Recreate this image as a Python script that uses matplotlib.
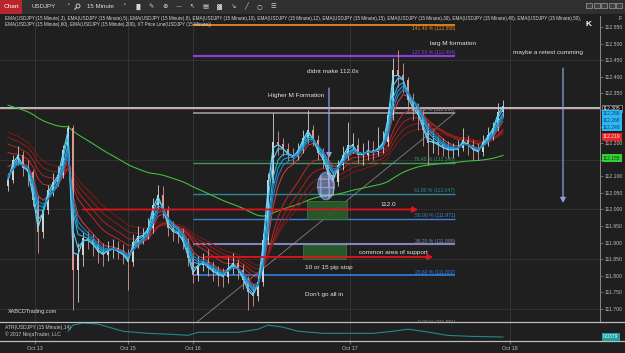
import numpy as np
import matplotlib
matplotlib.use('Agg')
import matplotlib.pyplot as plt
from matplotlib.patches import Rectangle, Ellipse, FancyArrowPatch, Circle
import matplotlib.transforms as mtransforms

# ---------------- data ----------------
first_open = 112.070
closes = [112.089, 112.149, 112.164, 112.125, 112.113, 112.029, 111.932, 111.998, 112.059, 112.083,
          112.104, 112.179, 112.246, 111.818, 111.863, 111.914, 111.908, 111.893, 111.872, 111.863,
          111.878, 111.884, 111.872, 111.863, 111.842, 111.902, 111.920, 111.923, 111.944, 112.014,
          112.044, 111.998, 111.944, 111.932, 111.926, 111.902, 111.854, 111.803, 111.833, 111.842,
          111.824, 111.812, 111.803, 111.797, 111.824, 111.839, 111.818, 111.788, 111.751, 111.739,
          111.782, 111.908, 112.089, 112.203, 112.197, 112.182, 112.164, 112.158, 112.179, 112.215,
          112.240, 112.209, 112.170, 112.149, 112.104, 112.083, 112.134, 112.164, 112.194, 112.194,
          112.164, 112.164, 112.179, 112.173, 112.185, 112.203, 112.285, 112.420, 112.405, 112.390,
          112.330, 112.300, 112.285, 112.240, 112.200, 112.203, 112.194, 112.185, 112.179, 112.179,
          112.185, 112.209, 112.194, 112.179, 112.173, 112.203, 112.224, 112.246, 112.294, 112.312]
highs = [112.110, 112.165, 112.190, 112.175, 112.150, 112.120, 112.040, 112.010, 112.075, 112.110,
         112.130, 112.195, 112.255, 112.255, 111.900, 111.935, 111.935, 111.925, 111.915, 111.900,
         111.905, 111.910, 111.905, 111.895, 111.880, 111.925, 111.950, 111.945, 111.975, 112.035,
         112.074, 112.070, 112.010, 111.965, 111.950, 111.945, 111.915, 111.870, 111.860, 111.870,
         111.880, 111.845, 111.830, 111.825, 111.860, 111.870, 111.850, 111.835, 111.800, 111.775,
         111.800, 111.930, 112.110, 112.291, 112.235, 112.215, 112.200, 112.185, 112.200, 112.240,
         112.300, 112.255, 112.225, 112.185, 112.160, 112.115, 112.150, 112.190, 112.264, 112.230,
         112.215, 112.200, 112.210, 112.205, 112.249, 112.235, 112.300, 112.457, 112.481, 112.440,
         112.400, 112.350, 112.320, 112.300, 112.260, 112.235, 112.220, 112.215, 112.205, 112.200,
         112.210, 112.246, 112.225, 112.210, 112.200, 112.225, 112.250, 112.265, 112.320, 112.330]
lows = [112.055, 112.080, 112.135, 112.100, 112.070, 112.010, 111.870, 111.915, 111.985, 112.040,
        112.070, 112.095, 112.165, 111.697, 111.720, 111.830, 111.880, 111.860, 111.840, 111.830,
        111.845, 111.855, 111.850, 111.835, 111.757, 111.830, 111.885, 111.895, 111.910, 111.930,
        112.000, 111.975, 111.920, 111.905, 111.900, 111.880, 111.830, 111.780, 111.785, 111.815,
        111.800, 111.785, 111.770, 111.765, 111.780, 111.805, 111.790, 111.760, 111.697, 111.710,
        111.725, 111.770, 111.895, 112.080, 112.165, 112.160, 112.145, 112.140, 112.150, 112.170,
        112.200, 112.190, 112.150, 112.125, 112.070, 112.044, 112.070, 112.120, 112.150, 112.170,
        112.140, 112.135, 112.150, 112.150, 112.160, 112.170, 112.190, 112.270, 112.370, 112.350,
        112.300, 112.270, 112.240, 112.190, 112.134, 112.170, 112.165, 112.160, 112.155, 112.155,
        112.160, 112.175, 112.165, 112.150, 112.149, 112.160, 112.190, 112.210, 112.235, 112.280]

bars_per_candle = 3          # each drawn candle stands for three 15-minute bars
ema_fast_periods = [3, 5, 8, 10, 12]
ema_fast_start = [112.085, 112.090, 112.100, 112.105, 112.110]
ema_slow_periods = [15, 30, 40, 50, 60]
ema_slow_start = [112.150, 112.190, 112.215, 112.235, 112.250]
ema_long_period = 200
ema_long_start = 112.321
price_line = 112.305

fib_low, fib_high = 111.651, 112.291
fib_ratios = [0.0, 0.236, 0.382, 0.5, 0.618, 0.764, 1.0, 1.27, 1.414]
fib_start_bar, fib_end_bar = 37.0, 89.4

atr_bars = [12, 13, 15, 18, 23, 28, 33, 36, 38, 41, 46, 50, 52, 55, 58, 63, 68, 73, 77, 80, 83, 88, 93, 99]
atr_vals = [0.054, 0.0713, 0.0771, 0.0742, 0.054, 0.0482, 0.0453, 0.0424, 0.051, 0.051, 0.051, 0.0597,
            0.0713, 0.0655, 0.054, 0.0482, 0.0482, 0.0482, 0.054, 0.0597, 0.054, 0.0424, 0.0395, 0.0379]

date_labels = ['Oct 13', 'Oct 15', 'Oct 16', 'Oct 17', 'Oct 18']
date_bars = [5.4, 24.0, 37.0, 68.4, 100.4]

last_value_boxes = [112.305, 112.288, 112.268, 112.248, 112.219, 112.155]
box_styles = [('#0c0c0c', '#ffffff'), ('#2fb8f0', '#0b3c78'), ('#2fb8f0', '#0b3c78'),
              ('#2fb8f0', '#0b3c78'), ('#ee2222', '#ffe0e0'), ('#33d233', '#0d3d0d')]

ema_header_1 = ('EMA(USDJPY (15 Minute),3), EMA(USDJPY (15 Minute),5), EMA(USDJPY (15 Minute),8), '
                'EMA(USDJPY (15 Minute),10), EMA(USDJPY (15 Minute),12), EMA(USDJPY (15 Minute),15), '
                'EMA(USDJPY (15 Minute),30), EMA(USDJPY (15 Minute),40), EMA(USDJPY (15 Minute),50),')
ema_header_2 = 'EMA(USDJPY (15 Minute),60), EMA(USDJPY (15 Minute),200), XT Price Line(USDJPY (15 Minute))'

# ---------------- helpers ----------------
def ema(values, period, start):
    a = 1 - (1 - 2.0 / (period + 1)) ** bars_per_candle
    out, prev = [], start
    for v in values:
        prev = a * v + (1 - a) * prev
        out.append(prev)
    return np.array(out)

plt.rcParams['font.family'] = ['Liberation Sans', 'DejaVu Sans']
BG = '#1f1f1f'
W, H = 625, 353
fig = plt.figure(figsize=(W / 100, H / 100), dpi=100, facecolor=BG)

def pos(x0, y0, x1, y1):
    return [x0 / W, 1 - y1 / H, (x1 - x0) / W, (y1 - y0) / H]

ax = fig.add_axes(pos(0, 16, 600, 322), facecolor=BG)
atr_ax = fig.add_axes(pos(0, 322, 600, 341), facecolor=BG, sharex=ax)

c = np.array(closes); h = np.array(highs); l = np.array(lows)
o = np.array([first_open] + closes[:-1])
x = np.arange(len(c))
ax.set_xlim(-1.6, 118.4)
ax.set_ylim(111.661, 112.583)

# grid
for gx in date_bars:
    ax.axvline(gx, color='#353535', lw=0.7, zorder=0)
for gy in [111.70, 111.85, 112.00, 112.15, 112.45]:
    ax.axhline(gy, color='#333333', lw=0.6, zorder=0)

# fib levels
fib_colors = ['#8a8a8a', '#2f7fe0', '#8286b8', '#3f7fd0', '#2a8a98', '#3c9a5c', '#9a9a9a', '#8c3fd8', '#e8871e']
fib_lw = [0.8, 1.2, 1.5, 1.0, 1.0, 1.0, 1.2, 1.6, 1.3]
for r, col, lw in zip(fib_ratios, fib_colors, fib_lw):
    p = fib_low + r * (fib_high - fib_low)
    ax.hlines(p, fib_start_bar, fib_end_bar, color=col, lw=lw, zorder=1)
    below = r > 1.3
    ax.text(fib_end_bar, p + (-0.004 if below else 0.002), f'{r*100:.2f} % ({p:.3f})', color=col,
            fontsize=3.6, ha='right', va='top' if below else 'bottom', zorder=6)
ax.plot([fib_start_bar, fib_end_bar], [fib_low, fib_high], color='#9a9a9a', lw=0.6, alpha=0.8, zorder=2)

# price line
ax.axhline(price_line + 0.004, color='#9fcfc8', lw=0.7, zorder=2)
ax.axhline(price_line, color='#d6a4b0', lw=1.0, zorder=2)

# green boxes
ax.add_patch(Rectangle((59.8, 111.970), 8.0, 0.055, fc='#2b5e2b', ec='#3a7a3a', lw=0.6, alpha=0.9, zorder=2))
ax.add_patch(Rectangle((59.0, 111.852), 8.6, 0.041, fc='#2b5e2b', ec='#3a7a3a', lw=0.6, alpha=0.9, zorder=2))

# EMAs
ax.plot(x, ema(closes, ema_long_period, ema_long_start), color='#3fbf3f', lw=0.8, zorder=3)
slow_cols = ['#e83a3a', '#c62828', '#b02020', '#961c1c', '#7f1818']
for p, s, col in zip(ema_slow_periods, ema_slow_start, slow_cols):
    ax.plot(x, ema(closes, p, s), color=col, lw=0.7, zorder=3)

# candles
up = c >= o
body_col = np.where(up, '#d2d2d2', '#e09494')
ax.vlines(x, l, h, colors=body_col, lw=0.6, zorder=4)
ax.bar(x, np.maximum(np.abs(c - o), 0.003), bottom=np.minimum(o, c), width=0.55,
       color=body_col, edgecolor='none', zorder=4)

fast_cols = ['#6fdcff', '#45c6f2', '#2eaee2', '#2495cf', '#1c7fbb']
for p, s, col in zip(ema_fast_periods, ema_fast_start, fast_cols):
    ax.plot(x, ema(closes, p, s), color=col, lw=0.8, zorder=5)

ax.add_patch(Ellipse((63.6, 112.071), 3.4, 0.084, fc='#8fb0f0', ec='#b8ccff', lw=0.6,
                     alpha=0.55, hatch='++', zorder=6))

# arrows
def arrow(x0, y0, x1, y1, col, lw):
    ax.add_patch(FancyArrowPatch((x0, y0), (x1, y1), arrowstyle='-|>,head_length=3,head_width=1.6',
                                 color=col, lw=lw, zorder=7, shrinkA=0, shrinkB=0))
arrow(15.0, 112.000, 82.0, 112.000, '#e0141e', 1.3)
arrow(39.4, 111.857, 85.0, 111.857, '#e0141e', 1.3)
arrow(64.2, 112.366, 64.2, 112.155, '#8aa2e2', 0.9)
arrow(111.0, 112.426, 111.0, 112.020, '#8aa2e2', 0.9)

# annotations
tc = '#e4e4e4'
notes = [('larg M formation', 89.0, 112.499), ('maybe a retest cumming', 108.0, 112.472),
         ('didnt make 112.0x', 65.0, 112.417), ('Higher M Formation', 57.6, 112.342),
         ('112.0', 76.0, 112.014), ('common area of support', 77.0, 111.869),
         ('10 or 15 pip stop', 64.2, 111.824), ("Don't go all in", 63.2, 111.745)]
for t, tx, ty in notes:
    ax.text(tx, ty, t, color=tc, fontsize=4.6, ha='center', va='center', zorder=8)
ax.text(0.0, 111.694, 'XABCDTrading.com', color='#dddddd', fontsize=4.0, ha='left', va='center', zorder=8)

# right axis (labels hidden behind the value boxes are left blank)
for sp in ['top', 'left', 'bottom']:
    ax.spines[sp].set_visible(False)
ax.spines['right'].set_color('#8a8a8a'); ax.spines['right'].set_linewidth(0.7)
ax.yaxis.tick_right()
yt = np.round(np.arange(111.70, 112.5501, 0.05), 3)
hidden = [112.30, 112.25, 112.15]
ax.set_yticks(yt)
ax.set_yticklabels(['' if any(abs(v - hv) < 1e-6 for hv in hidden) else f'{v:.3f}' for v in yt])
ax.tick_params(axis='y', colors='#8a8a8a', labelcolor='#bdbdbd', labelsize=3.7, length=2, width=0.5, pad=1)
ax.tick_params(axis='x', bottom=False, labelbottom=False)

# ATR pane
atr_ax.set_ylim(0.0267, 0.0799)
atr_ax.plot(atr_bars, atr_vals, color='#1f8a8a', lw=0.8)
for sp in ['left', 'right']:
    atr_ax.spines[sp].set_visible(False)
for sp in ['top', 'bottom']:
    atr_ax.spines[sp].set_color('#bdbdbd'); atr_ax.spines[sp].set_linewidth(0.9)
atr_ax.set_yticks([])
atr_ax.set_xticks(date_bars)
atr_ax.set_xticklabels(date_labels)
atr_ax.tick_params(axis='x', colors='#8a8a8a', labelcolor='#bdbdbd', labelsize=3.8, length=2, width=0.5, pad=1.5)
for gx in date_bars:
    atr_ax.axvline(gx, color='#353535', lw=0.7, zorder=0)
atr_ax.text(0.008, 0.72, 'ATR(USDJPY (15 Minute),14)', transform=atr_ax.transAxes, fontsize=3.6,
            color='#cccccc', va='center')
atr_ax.text(0.008, 0.35, '\u00a9 2017 NinjaTrader, LLC', transform=atr_ax.transAxes, fontsize=3.6,
            color='#cccccc', va='center')

# overlay: toolbar, header texts, value boxes
ov = fig.add_axes([0, 0, 1, 1])
ov.set_xlim(0, W); ov.set_ylim(H, 0); ov.axis('off'); ov.patch.set_alpha(0)
ov.add_patch(Rectangle((0, 0), W, 14, fc='#303030', ec='none'))
ov.add_patch(Rectangle((0, 0), 22, 14, fc='#b8252b', ec='none'))
ov.text(11, 7, 'Chart', color='white', fontsize=4.6, ha='center', va='center')
ov.text(32, 7, 'USDJPY', color='#dddddd', fontsize=4.4, va='center')
ov.text(66, 7, '\u02c5', color='#dddddd', fontsize=5, va='center', family='DejaVu Sans')
ov.add_patch(Circle((78, 6), 2.0, fc='none', ec='#dddddd', lw=0.6))
ov.plot([76.6, 74.8], [7.4, 9.4], color='#dddddd', lw=0.7)
ov.text(87, 7, '15 Minute', color='#dddddd', fontsize=4.4, va='center')
ov.text(122, 7, '\u02c5', color='#dddddd', fontsize=5, va='center', family='DejaVu Sans')
icons = ['\u2590\u258c', '\u270e', '\u2295', '\u2014', '\u2196', '\u25a4', '\u2593', '\u2198', '\u2571', '\u25cb', '\u2630']
for i, g in enumerate(icons):
    ov.text(138 + i * 13.5, 7, g, color='#d8d8d8', fontsize=4.6, ha='center', va='center', family='DejaVu Sans')
for i in range(5):
    ov.add_patch(Rectangle((586 + i * 7.5, 2.5), 6, 5, fc='#404040', ec='#bbbbbb', lw=0.4))
ov.text(5, 18.5, ema_header_1, color='#d8d8d8', fontsize=3.3, va='center')
ov.text(5, 24.5, ema_header_2, color='#d8d8d8', fontsize=3.3, va='center')
ov.text(589, 25, 'K', color='#ffffff', fontsize=6, fontweight='bold', ha='center', va='center')
ov.text(620, 19, 'F', color='#cccccc', fontsize=4, ha='center', va='center')
ov.plot([600, W], [322, 322], color='#bdbdbd', lw=0.9)
ov.plot([600, W], [341, 341], color='#bdbdbd', lw=0.9)

box_tr = mtransforms.blended_transform_factory(ov.transData, ax.transData)
for v, (fc, tcol) in zip(last_value_boxes, box_styles):
    ov.text(603, v, f'{v:.3f}', transform=box_tr, fontsize=3.6, color=tcol, ha='left', va='center',
            bbox=dict(boxstyle='square,pad=0.25', fc=fc, ec='#bbbbbb' if fc == '#0c0c0c' else 'none', lw=0.4),
            clip_on=False, zorder=9)
atr_tr = mtransforms.blended_transform_factory(ov.transData, atr_ax.transData)
ov.text(603, atr_vals[-1], f'{atr_vals[-1]:.4f}', transform=atr_tr, fontsize=3.6, color='#ffffff',
        ha='left', va='center', bbox=dict(boxstyle='square,pad=0.25', fc='#1aa0a0', ec='none'), clip_on=False)

fig.savefig('out.png', dpi=100, facecolor=BG)
